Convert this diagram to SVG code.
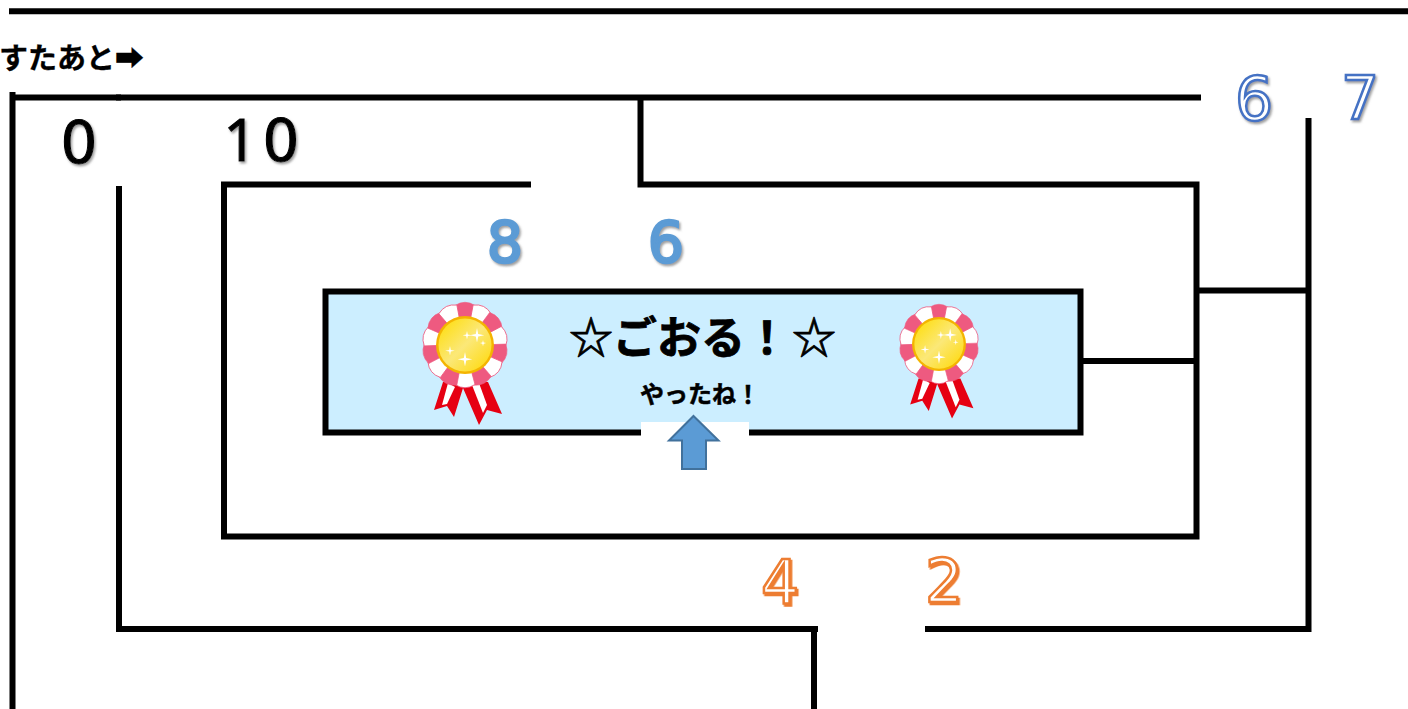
<svg xmlns="http://www.w3.org/2000/svg" width="1408" height="709" viewBox="0 0 1408 709">
<style>
.w{fill:none;stroke:#000;stroke-width:6;stroke-linecap:butt}
.t{font-family:"Noto Sans CJK JP","DejaVu Sans",sans-serif;font-weight:700;fill:#000;stroke:#000}
.d{font-family:"DejaVu Sans",sans-serif;font-weight:400;text-anchor:middle}
.k{font-size:58px;fill:#000;stroke:#000;stroke-width:1;filter:url(#sh)}
.b{font-size:57px;fill:#5b9bd5;stroke:#5b9bd5;stroke-width:2.500;filter:url(#sh)}
.l{font-size:60px;fill:#fff;stroke:#4472c4;stroke-width:2.500;filter:url(#sh)}
.o{font-size:60px;fill:#fff;stroke:#ed7d31;stroke-width:2.500;filter:url(#sh2)}
.pk{fill:#ee5a80;stroke:#ee5a80;stroke-width:.6}
.wh{fill:#fff;stroke:#ee5a80;stroke-width:.8}
</style>
<defs>
<filter id="sh" x="-30%" y="-30%" width="160%" height="160%"><feDropShadow dx="1.500" dy="2" stdDeviation="1" flood-color="#777" flood-opacity=".7"/></filter>
<filter id="sh2" x="-30%" y="-30%" width="160%" height="160%"><feDropShadow dx="1.500" dy="2" stdDeviation=".3" flood-color="#ed7d31"/></filter>
<linearGradient id="gold" x1="0" y1="0" x2="1" y2="1"><stop offset="0" stop-color="#ffdc00"/><stop offset=".5" stop-color="#fbe878"/><stop offset="1" stop-color="#ffd800"/></linearGradient>
<path id="seg" d="M-6-24.500L-10-39.500Q0-46 10-39.500L6-24.500z"/>
<g id="rosette">
<polygon points="-22,37 -31,65 -18,61 -11,72 -2,43 14,80 22,65 37,69 23,37" fill="#e60012"/>
<polygon points="-17,38 -23,60 -18,59 -10,42" fill="#fff"/>
<polygon points="7,40 18,68 22,60 14,38" fill="#fff"/>
<use href="#seg" class="pk" transform="rotate(0)"/>
<use href="#seg" class="wh" transform="rotate(25.700)"/>
<use href="#seg" class="pk" transform="rotate(51.400)"/>
<use href="#seg" class="wh" transform="rotate(77.100)"/>
<use href="#seg" class="pk" transform="rotate(102.900)"/>
<use href="#seg" class="wh" transform="rotate(128.600)"/>
<use href="#seg" class="pk" transform="rotate(154.300)"/>
<use href="#seg" class="wh" transform="rotate(180)"/>
<use href="#seg" class="pk" transform="rotate(205.700)"/>
<use href="#seg" class="wh" transform="rotate(231.400)"/>
<use href="#seg" class="pk" transform="rotate(257.100)"/>
<use href="#seg" class="wh" transform="rotate(282.900)"/>
<use href="#seg" class="pk" transform="rotate(308.600)"/>
<use href="#seg" class="wh" transform="rotate(334.300)"/>
<circle r="29" fill="#f4b400"/>
<circle r="26.500" fill="url(#gold)"/>
<path d="M12-17 l1.200 6 6 1.200 -6 1.200 -1.200 6 -1.200-6 -6-1.200 6-1.200z M2-14 l.8 3.500 3.500 .8 -3.500 .8 -.8 3.500 -.8-3.500 -3.500-.8 3.500-.8z M0 7 l1.200 6 6 1.200 -6 1.200 -1.200 6 -1.200-6 -6-1.200 6-1.200z M-15 1 l.8 4 4 .8 -4 .8 -.8 4 -.8-4 -4-.8 4-.8z M18-5 l.6 2.500 2.500 .6 -2.500 .6 -.6 2.500 -.6-2.500 -2.500-.6 2.500-.6z" fill="#fff"/>
</g>
</defs>
<rect width="1408" height="709" fill="#fff"/>
<g id="connectors">
<path class="w" d="M9 11.250H1408"/>
<path class="w" d="M12.500 92V709M10 97.500H1201"/>
<path class="w" d="M116 97.500H121"/>
<path class="w" d="M119 186V629H818"/>
<path class="w" d="M814 629V709"/>
<path class="w" d="M925 629H1308.500V118"/>
<path class="w" d="M640.500 97V184.500H1196.500V536.500H224V184.500H531"/>
<path class="w" d="M1197 290.500H1308"/>
<path class="w" d="M1080 361H1196"/>
</g>
<g id="goal">
<rect x="325.500" y="291.500" width="755" height="141" fill="#cceeff" stroke="#000" stroke-width="6"/>
<rect x="641" y="422" width="108" height="14" fill="#fff"/>
<polygon points="693.500,416 718.500,440.500 706,440.500 706,469 682,469 682,440.500 669,440.500" fill="#5b9bd5" stroke="#41719c" stroke-width="2"/>
<use href="#rosette" transform="translate(465,345)"/>
<use href="#rosette" transform="translate(939,344) scale(.93)"/>
<text class="t" x="569" y="354" font-size="44" stroke-width=".8">☆ごおる！<tspan dx="3">☆</tspan></text>
<text class="t" x="640" y="403" font-size="24" stroke-width=".5">やったね！</text>
</g>
<g id="hint"><text class="t" x="-1" y="69" font-size="29" stroke-width=".3">すたあと➡</text></g>
<g id="n0"><text class="d k" x="79" y="163">0</text></g>
<g id="n10"><text class="d k" x="240" y="161" style="font-family:'Noto Sans',sans-serif;font-weight:400">1</text><text class="d k" x="281" y="161">0</text></g>
<g id="n8"><text class="d b" x="505" y="263">8</text></g>
<g id="n6a"><text class="d b" x="666" y="263">6</text></g>
<g id="n6b"><text class="d l" x="1254" y="120">6</text></g>
<g id="n7"><text class="d l" x="1360" y="119">7</text></g>
<g id="n4"><text class="d o" x="780" y="603">4</text></g>
<g id="n2"><text class="d o" x="944" y="602">2</text></g>
</svg>
